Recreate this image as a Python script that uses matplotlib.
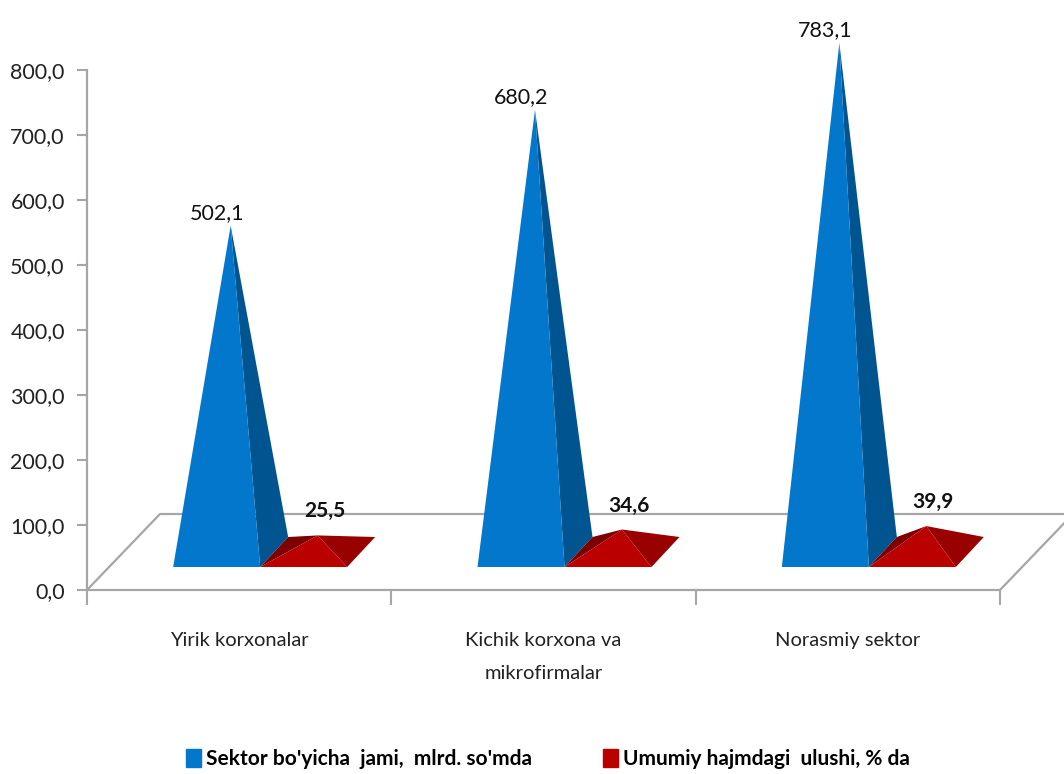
import matplotlib
matplotlib.use('Agg')
import matplotlib.pyplot as plt
from matplotlib.patches import Polygon, Patch

categories = ['Yirik korxonalar', 'Kichik korxona va\nmikrofirmalar', 'Norasmiy sektor']
totals = [502.1, 680.2, 783.1]
shares = [25.5, 34.6, 39.9]
total_labels = ['502,1', '680,2', '783,1']
share_labels = ['25,5', '34,6', '39,9']
yticks = [0, 100, 200, 300, 400, 500, 600, 700, 800]
series_names = ["Sektor bo'yicha  jami,  mlrd. so'mda", "Umumiy hajmdagi  ulushi, % da"]

W, H = 1064, 774
plt.rcParams['font.family'] = 'Lato'

fig = plt.figure(figsize=(W / 100, H / 100), dpi=100)
# plot box in pixels: x 87..1000, y 70..590
ax = fig.add_axes([87 / W, 1 - 590 / H, 913 / W, 520 / H])
ax.set_xlim(0, 3)
ax.set_ylim(0, 800)

sx = 3 / 913      # x units per pixel
sy = 800 / 520    # y units per pixel
grey = '#a6a6a6'

# floor
depth_x, depth_y = 73 * sx, 76 * sy
ax.plot([0, depth_x, 3 + depth_x * 1.2], [0, depth_y, depth_y], color=grey, lw=1.6, clip_on=False, zorder=1)
ax.plot([3, 3 + depth_x * 1.2], [0, depth_y * 1.2], color=grey, lw=1.6, clip_on=False, zorder=1)


def pyramid(x_left, value, front, side, back=None):
    w = 87 * sx
    dx = 28 * sx
    y0 = 23 * sy
    y1 = 53 * sy
    fl = (x_left, y0)
    fr = (x_left + w, y0)
    br = (x_left + w + dx, y1)
    bl = (x_left + dx, y1)
    apex = (x_left + (w + dx) / 2, (y0 + y1) / 2 + value)
    if back:
        ax.add_patch(Polygon([fl, bl, apex], color=back, lw=0, clip_on=False, zorder=3))
    ax.add_patch(Polygon([fr, br, apex], color=side, lw=0, clip_on=False, zorder=3))
    ax.add_patch(Polygon([fl, fr, apex], color=front, lw=0, clip_on=False, zorder=4))
    return apex


for i in range(3):
    left = i + 0.5 - 66 * sx
    a = pyramid(left, totals[i], '#0277cc', '#005490')
    ax.text(a[0] - 14 * sx, a[1] + 13 * sy, total_labels[i], ha='center', va='center',
            fontsize=15.5, color='#111111', clip_on=False, zorder=6)
    b = pyramid(left + 87 * sx, shares[i], '#bb0000', '#990000', back='#7d0000')
    ax.text(b[0] + 7 * sx, b[1] + 24 * sy, share_labels[i], ha='center', va='center',
            fontsize=15, fontweight='bold', color='#111111', clip_on=False, zorder=6)

for s in ['top', 'right']:
    ax.spines[s].set_visible(False)
for s in ['left', 'bottom']:
    ax.spines[s].set_color(grey)
    ax.spines[s].set_linewidth(1.6)

ax.set_yticks(yticks)
ax.set_yticklabels([f'{v:.1f}'.replace('.', ',') for v in yticks], fontsize=15.5, color='#222222')
ax.tick_params(axis='y', length=7, width=1.5, color=grey, pad=9)
ax.set_xticks([0, 1, 2, 3])
ax.set_xticklabels([])
ax.tick_params(axis='x', length=11, width=1.5, color=grey)
ax.set_xticks([0.5, 1.5, 2.5], minor=True)
ax.set_xticklabels(categories, minor=True, fontsize=14.5, color='#222222', linespacing=2.2, va='top')
ax.tick_params(axis='x', which='minor', length=0, pad=30)

handles = [Patch(color='#0277cc'), Patch(color='#bb0000')]
leg = fig.legend(handles, series_names, loc='center', bbox_to_anchor=(548 / W, 1 - 759 / H), ncol=2,
                 frameon=False, handlelength=0.7, handleheight=1.0, handletextpad=0.25, columnspacing=3.4,
                 prop={'size': 15, 'weight': 'bold'})

fig.savefig('out.png', dpi=100, facecolor='white')
